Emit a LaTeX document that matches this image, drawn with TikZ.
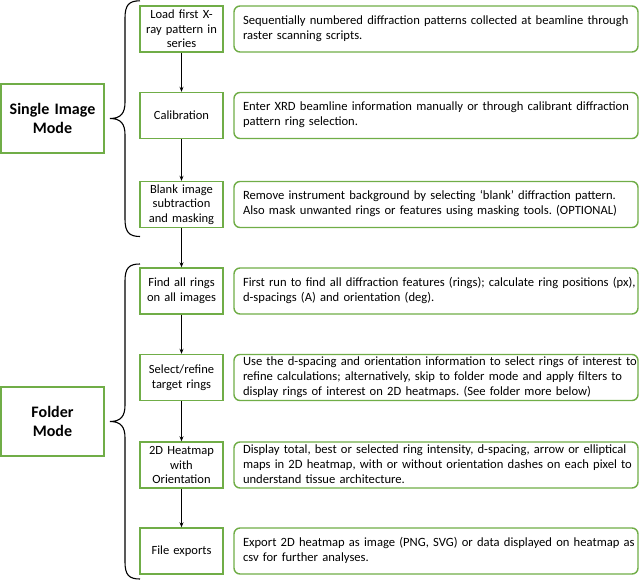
\documentclass[tikz,border=0pt]{standalone}
\usepackage{fontspec}
\setmainfont{Carlito}
\usetikzlibrary{arrows.meta}
\definecolor{boxgreen}{HTML}{70AD47}
\frenchspacing
\newcommand\desclines[1]{\begin{tabular}{@{\hspace{9pt}}l@{}}#1\end{tabular}}
\begin{document}
\begin{tikzpicture}[x=1pt,y=-1pt,
  stepbox/.style={draw=boxgreen,line width=1.4pt,minimum width=83pt,minimum height=46pt,
    text width=80pt,align=center,inner sep=0pt,font=\fontsize{12.5}{14.7}\selectfont},
  descbox/.style={draw=boxgreen,line width=1.4pt,rounded corners=6pt,minimum width=404pt,minimum height=46pt,
    text width=404pt,align=left,inner sep=0pt,font=\fontsize{12.6}{15}\selectfont},
  modebox/.style={draw=boxgreen,line width=1.4pt,minimum width=103pt,minimum height=69pt,
    text width=100pt,align=center,inner sep=0pt,font=\fontsize{16}{19.5}\selectfont\bfseries},
  arr/.style={-{Stealth[length=5pt,width=4pt]},line width=0.9pt},
  brace/.style={line width=1.1pt}]
\useasboundingbox (0,0) rectangle (640,580);
% mode boxes
\node[modebox] (single) at (52.5,118.5) {Single Image\\Mode};
\node[modebox] (folder) at (52.5,421.5) {Folder\\Mode};
% step boxes
\node[stepbox] (s1) at (181.5,29) {Load first X-\\ray pattern in\\series};
\node[stepbox] (s2) at (181.5,115.5) {Calibration};
\node[stepbox] (s3) at (181.5,204.5) {Blank image\\subtraction\\and masking};
\node[stepbox] (s4) at (181.5,291) {Find all rings\\on all images};
\node[stepbox] (s5) at (181.5,377.5) {Select/refine\\target rings};
\node[stepbox] (s6) at (181.5,465) {2D Heatmap\\with\\Orientation};
\node[stepbox] (s7) at (181.5,551) {File exports};
% description boxes
\node[descbox] (d1) at (436,29) {\desclines{Sequentially numbered diffraction patterns collected at beamline through\\raster scanning scripts.}};
\node[descbox] (d2) at (436,115.5) {\desclines{Enter XRD beamline information manually or through calibrant diffraction\\pattern ring selection.}};
\node[descbox] (d3) at (436,204.5) {\desclines{Remove instrument background by selecting ‘blank’ diffraction pattern.\\Also mask unwanted rings or features using masking tools. (OPTIONAL)}};
\node[descbox] (d4) at (436,291) {\desclines{First run to find all diffraction features (rings); calculate ring positions (px),\\d-spacings (A) and orientation (deg).}};
\node[descbox] (d5) at (436,377.5) {\desclines{Use the d-spacing and orientation information to select rings of interest to\\refine calculations; alternatively, skip to folder mode and apply filters to\\display rings of interest on 2D heatmaps. (See folder more below)}};
\node[descbox] (d6) at (436,465) {\desclines{Display total, best or selected ring intensity, d-spacing, arrow or elliptical\\maps in 2D heatmap, with or without orientation dashes on each pixel to\\understand tissue architecture.}};
\node[descbox] (d7) at (436,551) {\desclines{Export 2D heatmap as image (PNG, SVG) or data displayed on heatmap as\\csv for further analyses.}};
% arrows
\draw[arr] (s1) -- (s2);
\draw[arr] (s2) -- (s3);
\draw[arr] (s3) -- (s4);
\draw[arr] (s4) -- (s5);
\draw[arr] (s5) -- (s6);
\draw[arr] (s6) -- (s7);
% braces
\draw[brace] (140,0.8) .. controls (129,0.8) and (125,5) .. (125,18) -- (125,102)
  .. controls (125,113) and (121,118.5) .. (110,118.5)
  .. controls (121,118.5) and (125,124) .. (125,135) -- (125,219)
  .. controls (125,232) and (129,236.5) .. (140,236.5);
\draw[brace] (140,264) .. controls (129,264) and (125,268) .. (125,281) -- (125,405)
  .. controls (125,416) and (121,421.5) .. (110,421.5)
  .. controls (121,421.5) and (125,427) .. (125,438) -- (125,562)
  .. controls (125,575) and (129,579) .. (140,579);
\end{tikzpicture}
\end{document}
